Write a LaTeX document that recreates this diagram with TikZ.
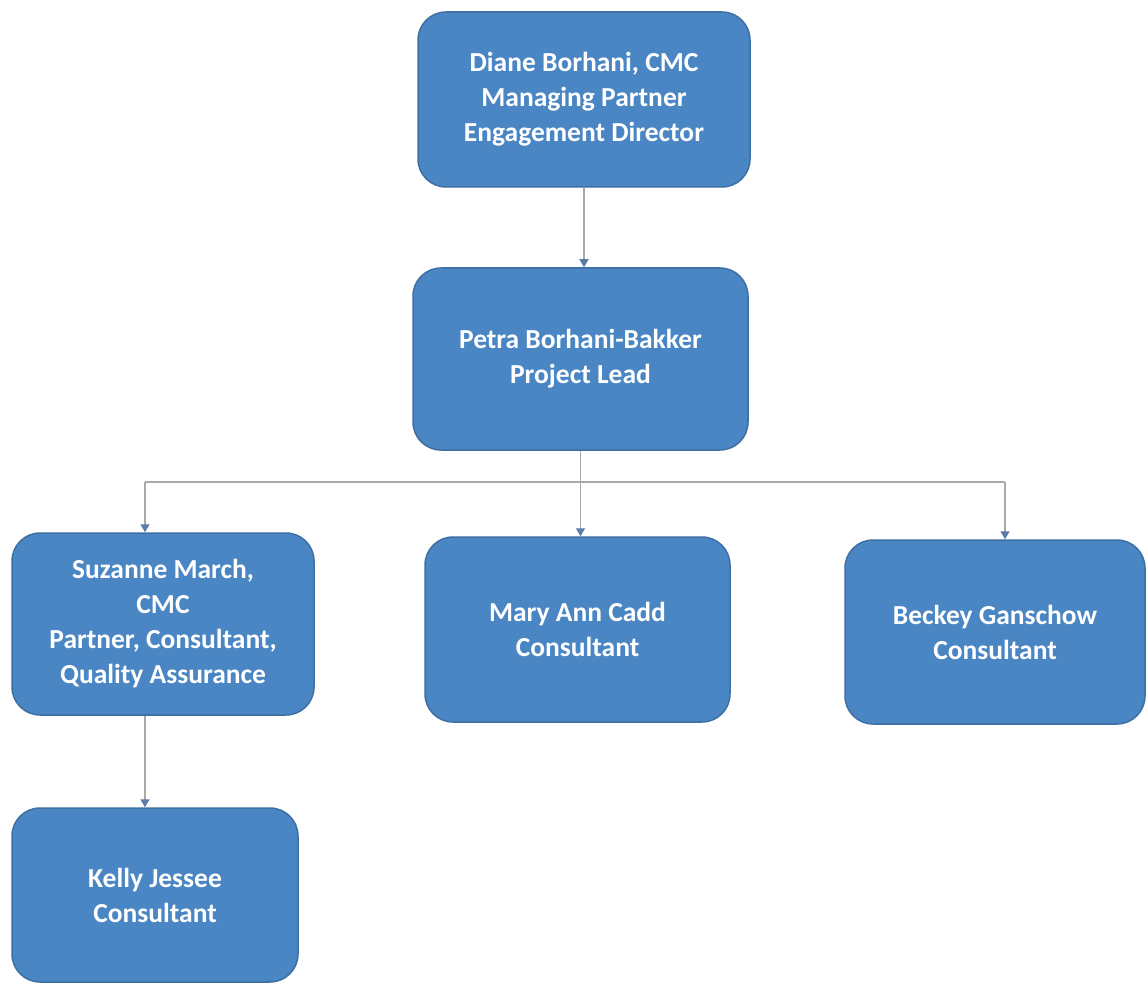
\documentclass[tikz,border=0pt]{standalone}
\usepackage{fontspec}
\setmainfont{Carlito}
\usepackage{tikz}
\usetikzlibrary{positioning, arrows.meta}
\usepackage{xcolor}

\definecolor{boxblue}{HTML}{4A86C4}
\definecolor{boxedge}{HTML}{3E6FA3}
\definecolor{linegray}{HTML}{A9A9A9}
\definecolor{tipblue}{HTML}{5C7CA8}

\tikzset{
    person/.style={draw=boxedge, line width=1.5pt, fill=boxblue, rounded corners=28pt,
        text=white, align=center, inner sep=0pt,
        font=\fontsize{27.5}{35}\selectfont\bfseries},
    link/.style={draw=linegray, line width=1.4pt},
    arrow/.style={link, -{Triangle[width=9pt,length=8pt,color=tipblue]}}
}

\begin{document}
\begin{tikzpicture}[x=1pt, y=-1pt]
                    \useasboundingbox (0,0) rectangle (1148,984);

                    % Boxes
                    \node[person, minimum width=332pt, minimum height=175pt] (diane) at (584,99.5)
                        {Diane Borhani, CMC\\Managing Partner\\Engagement Director};
                    \node[person, minimum width=335pt, minimum height=182pt] (petra) at (580.5,359)
                        {Petra Borhani-Bakker\\Project Lead};
                    \node[person, minimum width=302pt, minimum height=182pt] (suzanne) at (163,624)
                        {Suzanne March,\\CMC\\Partner, Consultant,\\Quality Assurance};
                    \node[person, minimum width=305pt, minimum height=185pt] (mary) at (577.5,629.5)
                        {Mary Ann Cadd\\Consultant};
                    \node[person, minimum width=300pt, minimum height=184pt] (beckey) at (995,632)
                        {Beckey Ganschow\\Consultant};
                    \node[person, minimum width=286pt, minimum height=174pt] (kelly) at (155,895)
                        {Kelly Jessee\\Consultant};

                    % Bus line
                    \coordinate (busL) at (145,482);
                    \coordinate (busR) at (1005,482);
                    \draw[link] (busL) -- (busR);

                    % Connectors
                    \draw[arrow] (diane.south) -- (diane.south |- petra.north);
                    \draw[arrow] (petra.south) -- (petra.south |- mary.north);
                    \draw[arrow] (busL) -- (busL |- suzanne.north);
                    \draw[arrow] (busR) -- (busR |- beckey.north);
                    \draw[arrow] (busL |- suzanne.south) -- (busL |- kelly.north);

\end{tikzpicture}
\end{document}
